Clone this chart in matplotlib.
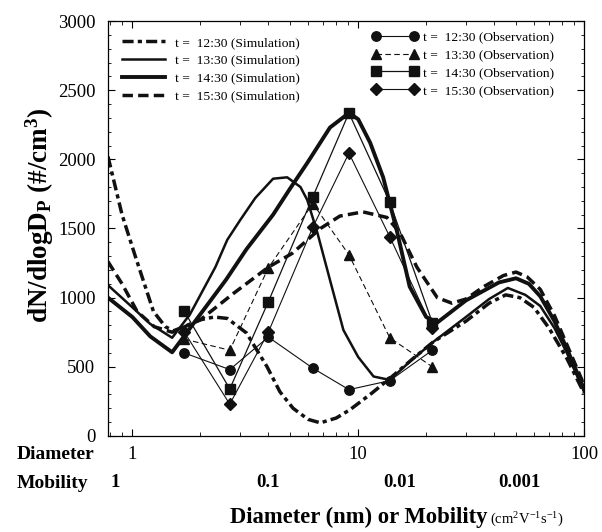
import numpy as np
import matplotlib
matplotlib.use("Agg")
import matplotlib.pyplot as plt
from matplotlib.ticker import MultipleLocator, LogLocator, NullFormatter, FixedLocator, FixedFormatter

plt.rcParams.update({
    "font.family": "Liberation Serif",
    "mathtext.fontset": "custom",
    "mathtext.rm": "Liberation Serif",
    "mathtext.bf": "Liberation Serif:bold",
    "mathtext.it": "Liberation Serif:italic",
    "xtick.direction": "in",
    "ytick.direction": "in",
    "xtick.top": True,
    "ytick.right": True,
    "axes.linewidth": 0.9,
})

INK = "#111111"

# ---- simulation curves (diameter in nm, dN/dlogDp) ----
sim_1230_d = [0.78, 0.9, 1.03, 1.24, 1.4, 1.52, 1.75, 2.0, 2.3, 2.63, 3.2, 3.95, 4.5, 5.15, 6.0,
              6.8, 8.0, 9.2, 11.5, 13.9, 17.5, 21.5, 30, 38, 45, 52, 60, 70, 84, 100]
sim_1230_n = [2020, 1600, 1300, 900, 790, 760, 800, 840, 860, 850, 745, 500, 320, 200, 120,
              95, 130, 190, 310, 420, 560, 680, 830, 960, 1020, 1000, 930, 780, 560, 310]

sim_1330_d = [0.78, 1.0, 1.2, 1.5, 1.8, 2.33, 2.63, 3.0, 3.5, 4.2, 4.85, 5.55, 5.95, 6.6, 7.5,
              8.6, 10, 11.7, 13.8, 17, 21.5, 30, 38, 46, 55, 64, 74, 84, 100]
sim_1330_n = [1090, 930, 810, 710, 880, 1220, 1417, 1560, 1720, 1860, 1870, 1800, 1706, 1468, 1128,
              766, 571, 430, 405, 540, 680, 860, 990, 1070, 1020, 940, 780, 600, 320]

sim_1430_d = [0.78, 1.0, 1.2, 1.5, 2.0, 2.6, 3.2, 4.2, 5.0, 5.95, 7.5, 9.1, 10, 11.3, 12.9,
              14.9, 16.9, 20, 22.4, 30, 42, 50, 57, 64, 74, 84, 100]
sim_1430_n = [1000, 860, 720, 605, 880, 1130, 1350, 1600, 1790, 1974, 2230, 2335, 2290, 2120, 1870,
              1470, 1080, 860, 820, 980, 1110, 1140, 1100, 1010, 830, 630, 340]

sim_1530_d = [0.78, 0.9, 1.05, 1.25, 1.5, 2.0, 2.8, 4.0, 5.1, 6.8, 8.3, 10.5, 13.4, 15.3, 18.2,
              22.4, 26, 30, 36, 44, 50, 56, 64, 74, 84, 100]
sim_1530_n = [1260, 1100, 900, 790, 750, 840, 1030, 1220, 1320, 1500, 1590, 1620, 1580, 1470, 1220,
              1000, 960, 990, 1080, 1160, 1185, 1150, 1060, 870, 660, 370]

# ---- observations ----
obs_d = [1.7, 2.7, 4.0, 6.3, 9.1, 13.8, 21.3]
obs_1230 = [600, 480, 715, 490, 335, 400, 620]
obs_1330 = [700, 620, 1215, 1680, 1310, 710, 500]
obs_1430 = [900, 340, 970, 1730, 2335, 1690, 820]
obs_1530 = [750, 230, 750, 1510, 2045, 1440, 780]

sim_labels = ["t =  12:30 (Simulation)", "t =  13:30 (Simulation)",
              "t =  14:30 (Simulation)", "t =  15:30 (Simulation)"]
obs_labels = ["t =  12:30 (Observation)", "t =  13:30 (Observation)",
              "t =  14:30 (Observation)", "t =  15:30 (Observation)"]

# mobility axis labels placed at the matching diameters
mob_labels = ["1", "0.1", "0.01", "0.001"]
mob_at_d = [0.84, 4.0, 15.3, 52]

fig = plt.figure(figsize=(6.02, 5.32), dpi=100)
ax = fig.add_axes([0.1794, 0.1805, 0.7907, 0.78])

l1, = ax.plot(sim_1230_d, sim_1230_n, color=INK, lw=2.5, dashes=(3.2, 1.2, 1.2, 1.2))
l2, = ax.plot(sim_1330_d, sim_1330_n, color=INK, lw=1.8)
l3, = ax.plot(sim_1430_d, sim_1430_n, color=INK, lw=2.8)
l4, = ax.plot(sim_1530_d, sim_1530_n, color=INK, lw=2.5, dashes=(3.0, 1.5))

o1, = ax.plot(obs_d, obs_1230, color=INK, lw=0.8, marker="o", ms=6.8)
o2, = ax.plot(obs_d, obs_1330, color=INK, lw=0.8, ls=(0, (5, 3)), marker="^", ms=6.8)
o3, = ax.plot(obs_d, obs_1430, color=INK, lw=0.9, marker="s", ms=7)
o4, = ax.plot(obs_d, obs_1530, color=INK, lw=0.8, marker="D", ms=5.8)

ax.set_xscale("log")
ax.set_xlim(0.78, 100)
ax.set_ylim(0, 3000)

ax.yaxis.set_major_locator(MultipleLocator(500))
ax.yaxis.set_minor_locator(MultipleLocator(100))
ax.xaxis.set_major_locator(FixedLocator([1, 10, 100]))
ax.xaxis.set_major_formatter(FixedFormatter(["1", "10", "100"]))
ax.xaxis.set_minor_locator(LogLocator(base=10, subs=np.arange(2, 10)))
ax.xaxis.set_minor_formatter(NullFormatter())

ax.tick_params(axis="y", which="major", length=5, width=0.8, labelsize=13.5, pad=9)
ax.tick_params(axis="y", which="minor", length=2.5, width=0.6)
ax.tick_params(axis="x", which="major", length=5, width=0.8, labelsize=13.5, pad=7)
ax.tick_params(axis="x", which="minor", length=3, width=0.6)

fig.text(0.066, 0.595, r"$\mathbf{dN/dlogD_P\ (\#/cm^3)}$", rotation=90,
         ha="center", va="center", fontsize=19.5)

for lab, d in zip(mob_labels, mob_at_d):
    ax.text(d, -0.113, lab, transform=ax.get_xaxis_transform(),
            ha="center", va="center", fontsize=13.5, fontweight="bold")

fig.text(0.027, 0.145, "Diameter", ha="left", va="center", fontsize=14, fontweight="bold")
fig.text(0.027, 0.092, "Mobility", ha="left", va="center", fontsize=14, fontweight="bold")
fig.text(0.809, 0.016, "Diameter (nm) or Mobility", ha="right", va="baseline",
         fontsize=16.3, fontweight="bold")
fig.text(0.814, 0.016, r"(cm$^2$V$^{-1}$s$^{-1}$)", ha="left", va="baseline", fontsize=10.5)

leg1 = ax.legend([l1, l2, l3, l4], sim_labels, loc="upper left",
                 bbox_to_anchor=(0.029, 0.963), frameon=False, fontsize=9.7,
                 handlelength=3.2, handletextpad=0.75, labelspacing=0.4,
                 borderpad=0, borderaxespad=0)
ax.add_artist(leg1)
ax.legend([o1, o2, o3, o4], obs_labels, loc="upper left",
          bbox_to_anchor=(0.555, 0.976), frameon=False, fontsize=9.7, numpoints=2,
          handlelength=3.4, handletextpad=0.35, labelspacing=0.4,
          borderpad=0, borderaxespad=0)

fig.savefig("out.png", dpi=100, facecolor="white")
